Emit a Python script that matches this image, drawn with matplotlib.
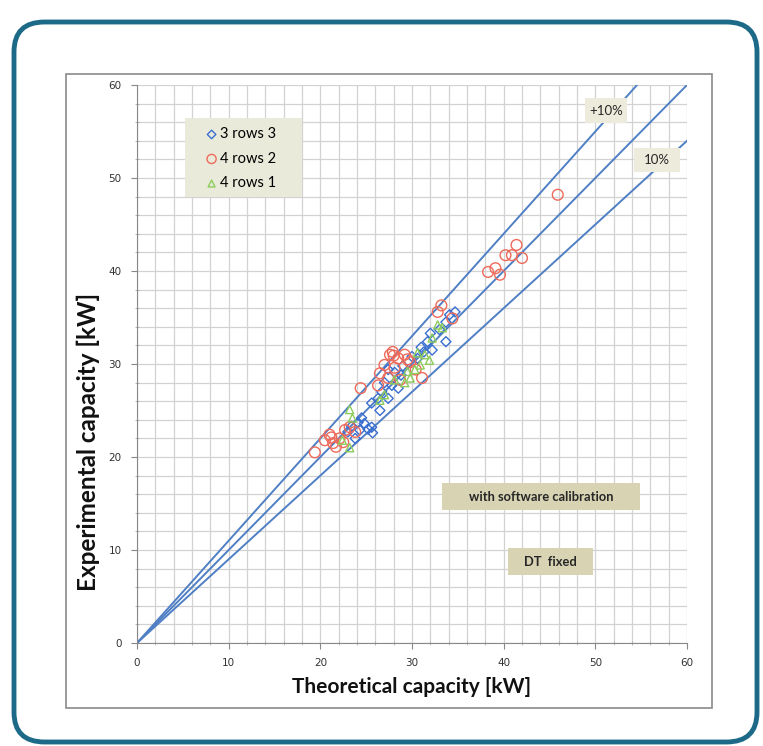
import numpy as np
from matplotlib import pyplot as plt
from matplotlib.patches import FancyBboxPatch, Rectangle

# 3 rows 3 (blue diamonds)
x_3r3 = [34.1, 34.7, 33.7, 33.0, 33.7, 32.0, 31.7, 32.2, 31.3, 30.6, 28.1, 27.4, 27.8, 28.5,
         26.7, 27.4, 26.3, 25.6, 26.5, 24.5, 24.1, 23.4, 24.3, 25.6, 25.7, 23.8, 23.0, 29.0,
         30.0, 31.0, 28.8, 27.0, 24.8, 25.2]
y_3r3 = [35.3, 35.6, 34.5, 33.7, 32.4, 33.3, 32.4, 31.5, 31.3, 30.6, 29.1, 29.4, 27.7, 27.4,
         27.0, 26.3, 26.3, 25.8, 25.0, 24.2, 23.7, 23.3, 22.9, 23.2, 22.6, 22.0, 22.7, 29.8,
         30.8, 31.8, 28.8, 28.0, 23.6, 23.0]

# 4 rows 2 (red circles)
x_4r2 = [45.9, 41.4, 40.9, 42.0, 40.2, 39.1, 38.3, 39.6, 33.2, 32.8, 34.4, 27.6, 28.5, 29.2,
         27.0, 28.1, 29.8, 27.4, 28.7, 26.5, 30.4, 31.1, 26.3, 24.4, 21.0, 20.5, 21.4, 22.1,
         19.4, 22.7, 23.2, 23.8, 21.7, 28.0, 29.5, 27.9, 21.2, 22.5]
y_4r2 = [48.2, 42.8, 41.7, 41.4, 41.7, 40.3, 39.9, 39.6, 36.3, 35.6, 34.9, 31.0, 30.6, 31.0,
         29.9, 29.6, 30.2, 28.5, 28.3, 29.0, 29.4, 28.5, 27.7, 27.4, 22.4, 21.8, 21.5, 22.0,
         20.5, 22.9, 23.2, 22.7, 21.1, 30.9, 30.5, 31.3, 22.1, 21.6]

# 4 rows 1 (green triangles)
x_4r1 = [32.8, 32.2, 31.4, 31.9, 30.9, 30.3, 29.8, 29.2, 28.1, 27.0, 26.5, 23.2, 23.5, 22.4,
         23.2, 33.3, 30.6, 29.5]
y_4r1 = [34.2, 32.8, 31.0, 30.4, 29.9, 29.4, 28.5, 28.0, 28.3, 26.7, 26.1, 25.1, 24.2, 21.8,
         21.0, 33.9, 31.2, 29.2]

ref_x = [0, 60]
band = [1.1, 1.0, 0.9]

W, H = 763, 746
fig = plt.figure(figsize=(W / 100, H / 100), dpi=100)
fig.patch.set_facecolor('white')


def fx(px):
    return px / W


def fy(py):
    return 1 - py / H


# outer rounded frame
frame = FancyBboxPatch((fx(14), fy(742)), fx(757) - fx(14), fy(22) - fy(742),
                       boxstyle="round,pad=0,rounding_size=0.04",
                       transform=fig.transFigure, fill=False,
                       edgecolor='#1d6a88', linewidth=3.5, zorder=0)
fig.patches.append(frame)

# inner chart border
border = Rectangle((fx(66), fy(708)), fx(712) - fx(66), fy(74) - fy(708),
                   transform=fig.transFigure, fill=False,
                   edgecolor='#8a8a8a', linewidth=1.2, zorder=0)
fig.patches.append(border)

ax = fig.add_axes([fx(137), fy(643), fx(687) - fx(137), fy(85) - fy(643)])
ax.set_xlim(0, 60)
ax.set_ylim(0, 60)

ax.set_xticks(np.arange(0, 61, 10))
ax.set_yticks(np.arange(0, 61, 10))
ax.set_xticks(np.arange(0, 61, 2), minor=True)
ax.set_yticks(np.arange(0, 61, 2), minor=True)
ax.grid(True, which='both', color='#d2d2d2', linewidth=0.9)
ax.set_axisbelow(True)
ax.tick_params(which='major', length=4, direction='out', color='#888888',
               labelsize=7.5, labelcolor='#333333', pad=7)
ax.tick_params(which='minor', length=3, direction='inout', color='#aaaaaa')
for s in ['top', 'right']:
    ax.spines[s].set_visible(False)
for s in ['left', 'bottom']:
    ax.spines[s].set_color('#888888')

for k in band:
    xs = np.array(ref_x, dtype=float)
    ax.plot(xs, k * xs, color='#4f7fc4', linewidth=1.4, zorder=2)

ax.scatter(x_3r3, y_3r3, marker='D', s=26, facecolors='none', edgecolors='#3a6fd0',
           linewidths=1.0, label='3 rows 3', zorder=3)
ax.scatter(x_4r2, y_4r2, marker='o', s=60, facecolors='none', edgecolors='#ee6a5a',
           linewidths=1.0, label='4 rows 2', zorder=3)
ax.scatter(x_4r1, y_4r1, marker='^', s=34, facecolors='none', edgecolors='#8ccc5a',
           linewidths=1.0, label='4 rows 1', zorder=3)

# legend background box (x 185-302, y 118-197 px)
ax.add_patch(Rectangle((48 / 550, 446 / 558), 117 / 550, 79 / 558, transform=ax.transAxes,
                       facecolor='#eaeadb', edgecolor='none', zorder=4))
leg = ax.legend(loc='upper left', bbox_to_anchor=(60 / 550, 523 / 558), frameon=False,
                handletextpad=0.1, borderpad=0.0, labelspacing=0.72,
                handlelength=1.0, markerscale=0.85, prop={'family': 'Lato', 'size': 10.5})
leg.set_zorder(5)


def label_box(x0, x1, y0, y1, text, face, size, weight='normal'):
    ax.add_patch(Rectangle((x0, y0), x1 - x0, y1 - y0, facecolor=face,
                           edgecolor='none', zorder=4))
    ax.text((x0 + x1) / 2, (y0 + y1) / 2, text, ha='center', va='center', fontsize=size,
            family='Lato', weight=weight, color='#262626', zorder=5)


label_box(48.9, 53.5, 55.9, 58.6, '+10%', '#ecebdc', 9.5)
label_box(54.2, 59.2, 50.6, 53.2, '10%', '#ecebdc', 9.5)
label_box(33.3, 54.9, 14.3, 17.2, 'with software calibration', '#d7d3b3', 9.3, 'bold')
label_box(40.5, 49.7, 7.3, 10.2, 'DT  fixed', '#d7d3b3', 9.3, 'bold')

ax.set_xlabel('Theoretical capacity [kW]', family='Lato', weight='bold', fontsize=15,
              color='#111111', labelpad=6)
ax.set_ylabel('Experimental capacity [kW]', family='Lato', weight='bold', fontsize=17.5,
              color='#111111')
ax.yaxis.set_label_coords(-0.068, 0.36)

fig.savefig('out.png', dpi=100)
